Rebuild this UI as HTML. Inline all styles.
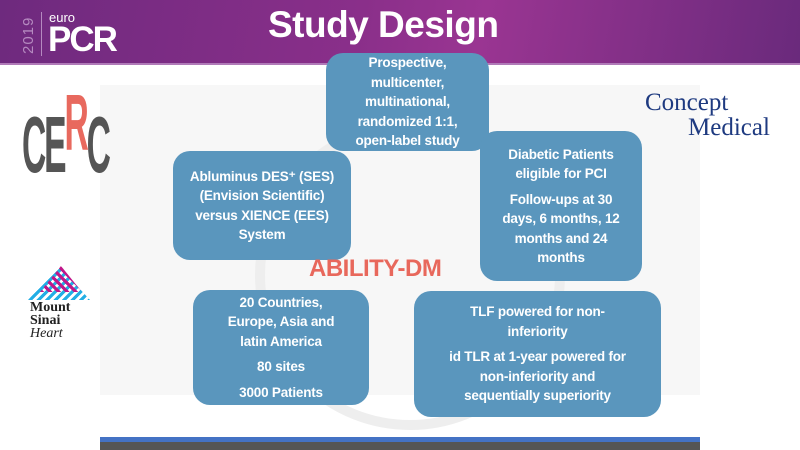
<!DOCTYPE html>
<html><head><meta charset="utf-8"><style>
*{margin:0;padding:0;box-sizing:border-box}
body{width:800px;height:450px;position:relative;overflow:hidden;background:#fff;font-family:"Liberation Sans",sans-serif}
.hdr{position:absolute;left:0;top:0;width:800px;height:65px;background:linear-gradient(100deg,#6e2a7e 0%,#8a2f8a 45%,#9a3592 60%,#6a2a7c 100%);border-bottom:2px solid #b07ab8}
.title{position:absolute;left:268px;top:4px;color:#fff;font-weight:bold;font-size:37px;letter-spacing:-0.5px}
.panel{position:absolute;left:100px;top:85px;width:600px;height:310px;background:#f7f7f7}
.box{position:absolute;background:#5a96bd;border-radius:17px;color:#fff;font-weight:bold;font-size:13.5px;line-height:19.5px;text-align:center;display:flex;flex-direction:column;justify-content:center;letter-spacing:-0.2px}
.box p+p{margin-top:6px}
</style></head><body>
<div class="hdr"></div>
<div style="position:absolute;left:20px;top:54px;color:#b58ac0;font-size:15px;transform:rotate(-90deg);transform-origin:left top;letter-spacing:1px">2019</div>
<div style="position:absolute;left:41px;top:12px;width:1px;height:44px;background:#b58ac0"></div>
<div style="position:absolute;left:49px;top:10px;color:#fff;font-size:13px">euro</div>
<div style="position:absolute;left:48px;top:20px;color:#fff;font-size:35px;font-weight:bold;letter-spacing:-2px">PCR</div>
<div class="title">Study Design</div>
<div class="panel"></div>
<svg style="position:absolute;left:0;top:0" width="800" height="450"><circle cx="410" cy="275" r="150" fill="none" stroke="#eeeeee" stroke-width="10"/></svg>
<div style="position:absolute;left:22px;top:100px;font-size:80px;color:#555;letter-spacing:-5px;transform:scaleX(.42);transform-origin:left;line-height:90px;font-weight:bold">CE<span style="color:#e8695e;position:relative;top:-22px">R</span>C</div>
<div style="position:absolute;left:28px;top:266px;width:62px;height:34px;background:repeating-linear-gradient(135deg,#22aee5 0 3px,transparent 3px 6px);clip-path:polygon(0 100%,50% 0,100% 100%)"></div>
<div style="position:absolute;left:40px;top:266px;width:42px;height:26px;background:repeating-linear-gradient(45deg,#c0178a 0 3px,transparent 3px 6px);clip-path:polygon(0 100%,50% 0,100% 100%)"></div>
<div style="position:absolute;left:30px;top:301px;font-family:'Liberation Serif',serif;font-weight:bold;font-size:14px;line-height:13px;color:#222">Mount<br>Sinai<br><i style="font-weight:normal">Heart</i></div>
<div style="position:absolute;left:645px;top:90px;font-family:'Liberation Serif',serif;font-size:25px;color:#1e3a80;line-height:25px">Concept<br><span style="margin-left:43px">Medical</span></div>
<div class="box" style="left:326px;top:53px;width:163px;height:98px"><p>Prospective,<br>multicenter,<br>multinational,<br>randomized 1:1,<br>open-label study</p></div>
<div class="box" style="left:173px;top:151px;width:178px;height:109px"><p>Abluminus DES⁺ (SES)<br>(Envision Scientific)<br>versus XIENCE (EES)<br>System</p></div>
<div class="box" style="left:480px;top:131px;width:162px;height:150px"><p>Diabetic Patients<br>eligible for PCI</p><p>Follow-ups at 30<br>days, 6 months, 12<br>months and 24<br>months</p></div>
<div style="position:absolute;left:309px;top:255px;color:#e8685c;font-weight:bold;font-size:24px;letter-spacing:-0.5px">ABILITY-DM</div>
<div class="box" style="left:193px;top:290px;width:176px;height:115px"><p>20 Countries,<br>Europe, Asia and<br>latin America</p><p>80 sites</p><p>3000 Patients</p></div>
<div class="box" style="left:414px;top:291px;width:247px;height:126px"><p>TLF powered for non-<br>inferiority</p><p>id TLR at 1-year powered for<br>non-inferiority and<br>sequentially superiority</p></div>
<div style="position:absolute;left:100px;top:437px;width:600px;height:5px;background:#4472c4"></div>
<div style="position:absolute;left:100px;top:442px;width:600px;height:8px;background:#555"></div>
</body></html>
